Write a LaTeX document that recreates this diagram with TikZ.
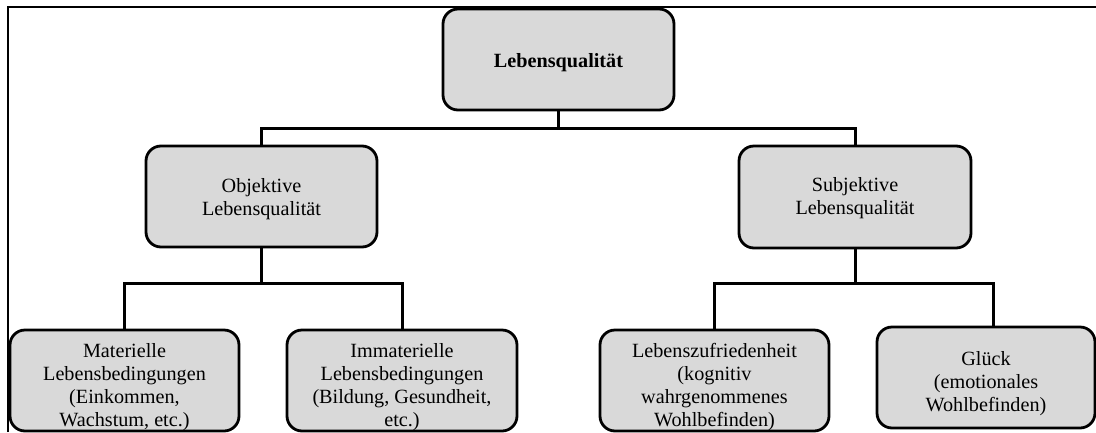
\documentclass[tikz,border=0pt]{standalone}
\usepackage{fontspec}
\usetikzlibrary{calc}
\setmainfont{Liberation Serif}
\definecolor{boxfill}{RGB}{217,217,217}
\begin{document}
\begin{tikzpicture}[x=1pt,y=-1pt,
  box/.style={draw=black, line width=2.8pt, rounded corners=15pt, fill=boxfill,
    inner sep=0pt},
  lbl/.style={align=center, inner sep=0pt, font=\fontsize{20.2}{23}\selectfont},
  conn/.style={draw=black, line width=3pt},
  frame/.style={draw=black, line width=1.8pt}]
\useasboundingbox (0,0) rectangle (1096,432);
% outer frame (top and left only)
\draw[frame] (8,432) -- (8,7) -- (1096,7);
% boxes
\node[box, minimum width=231pt, minimum height=101pt] (top) at (558.5,59.5) {};
\node[box, minimum width=231pt, minimum height=101pt] (obj) at (261.5,196.5) {};
\node[box, minimum width=232pt, minimum height=102pt] (subj) at (855,197) {};
\node[box, minimum width=229pt, minimum height=101pt] (mat) at (124.5,380.5) {};
\node[box, minimum width=230pt, minimum height=101pt] (imm) at (402,380.5) {};
\node[box, minimum width=229pt, minimum height=101pt] (lz) at (714.5,380.5) {};
\node[box, minimum width=218pt, minimum height=101pt] (glk) at (986,377.5) {};
% texts
\node[lbl, font=\fontsize{20.2}{23}\selectfont\bfseries] (topL) at ($(top)+(0,3)$) {Lebensqualität};
\node[lbl] (objL) at ($(obj)+(0,2.5)$) {Objektive\\Lebensqualität};
\node[lbl] (subjL) at ($(subj)+(0,1.5)$) {Subjektive\\Lebensqualität};
\node[lbl] (matL) at ($(mat)+(0,7)$) {Materielle\\Lebensbedingungen\\(Einkommen,\\Wachstum, etc.)};
\node[lbl] (immL) at ($(imm)+(0,7)$) {Immaterielle\\Lebensbedingungen\\(Bildung, Gesundheit,\\etc.)};
\node[lbl] (lzL) at ($(lz)+(0,7)$) {Lebenszufriedenheit\\(kognitiv\\wahrgenommenes\\Wohlbefinden)};
\node[lbl] (glkL) at ($(glk)+(0,6)$) {Glück\\(emotionales\\Wohlbefinden)};
% junctions
\coordinate (j1) at (558.5,128);
\coordinate (j2) at (261.5,283);
\coordinate (j3) at (855,283);
\coordinate (gt) at (993,327);
% connectors
\draw[conn] (top.south) -- (j1);
\draw[conn] (obj.north) |- (j1) -| (subj.north);
\draw[conn] (obj.south) -- (j2);
\draw[conn] (mat.north) |- (j2) -| (imm.north);
\draw[conn] (subj.south) -- (j3);
\draw[conn] (lz.north) |- (j3) -| (gt);
\end{tikzpicture}
\end{document}
